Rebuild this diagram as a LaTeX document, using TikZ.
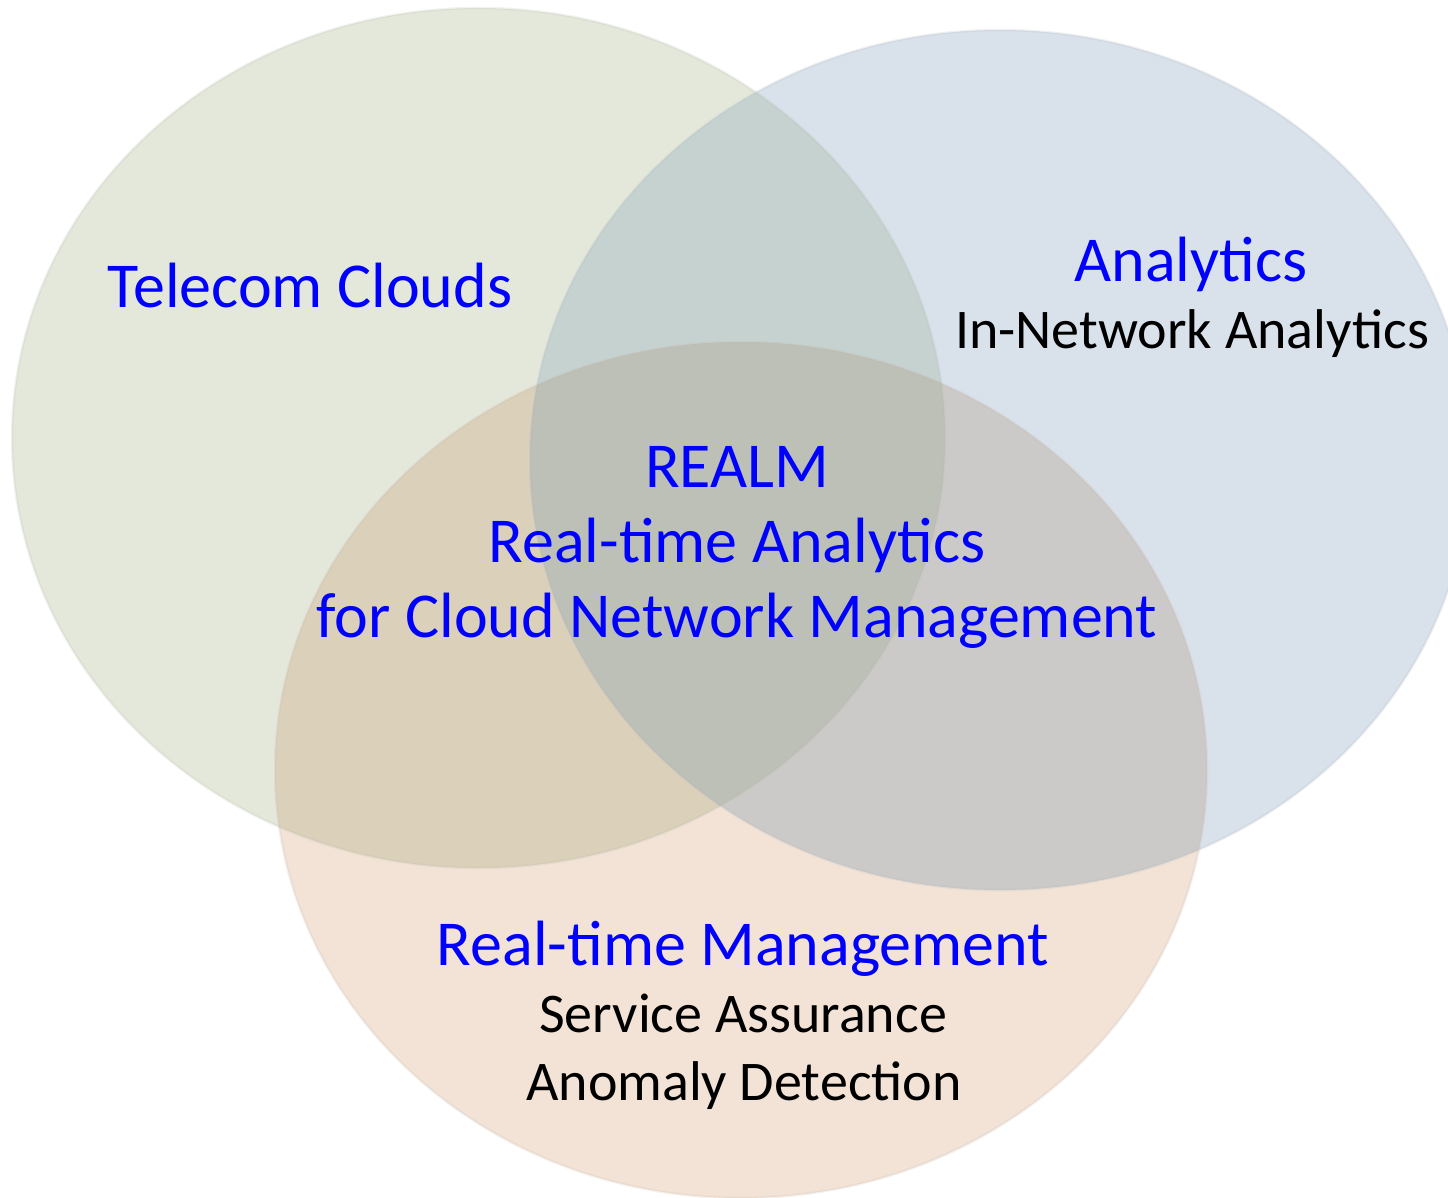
\documentclass[tikz,border=0pt]{standalone}
\usepackage{fontspec}
\setmainfont{Carlito}
\begin{document}
\begin{tikzpicture}[x=1pt,y=1pt,
  head/.style={anchor=base,text=blue,font=\fontsize{64}{76}\selectfont,inner sep=0pt},
  sub/.style={anchor=base,text=black,font=\fontsize{56}{66}\selectfont,inner sep=0pt},
  rim/.style={draw=#1,line width=2.5pt,draw opacity=0.18}]
  % region colours
  \definecolor{cG}{RGB}{228,232,218}
  \definecolor{cB}{RGB}{217,225,235}
  \definecolor{cO}{RGB}{242,227,214}
  \definecolor{cGB}{RGB}{198,210,208}
  \definecolor{cGO}{RGB}{219,208,186}
  \definecolor{cBO}{RGB}{204,202,200}
  \definecolor{cGBO}{RGB}{189,192,183}
  \useasboundingbox (0,0) rectangle (1448,-1198);
  % the three sets
  \def\ellG{(478.5,-438) ellipse [x radius=466.5, y radius=430]}
  \def\ellB{(1000,-460) ellipse [x radius=470, y radius=430]}
  \def\ellO{(741,-770) ellipse [x radius=466, y radius=428]}
  \fill[cG] \ellG;
  \fill[cB] \ellB;
  \fill[cO] \ellO;
  % pairwise overlaps
  \begin{scope}
    \clip \ellG;
    \fill[cGB] \ellB;
    \fill[cGO] \ellO;
  \end{scope}
  \begin{scope}
    \clip \ellB;
    \fill[cBO] \ellO;
  \end{scope}
  % common part
  \begin{scope}
    \clip \ellG;
    \clip \ellB;
    \fill[cGBO] \ellO;
  \end{scope}
  % soft rims
  \path[rim=cG!80!black] \ellG;
  \path[rim=cB!80!black] \ellB;
  \path[rim=cO!80!black] \ellO;
  % labels
  \node[head] (tc) at (310,-308) {Telecom Clouds};
  \node[head] (an) at (1191,-282) {Analytics};
  \node[sub] (ina) at (1192,-348) {In-Network Analytics};
  \node[head] (realm) at (737,-487) {REALM};
  \node[head] (rta) at (737,-562) {Real-time Analytics};
  \node[head] (cnm) at (737,-637) {for Cloud Network Management};
  \node[head] (rtm) at (743,-965) {Real-time Management};
  \node[sub] (sa) at (743,-1032) {Service Assurance};
  \node[sub] (ad) at (744,-1100) {Anomaly Detection};
\end{tikzpicture}
\end{document}
